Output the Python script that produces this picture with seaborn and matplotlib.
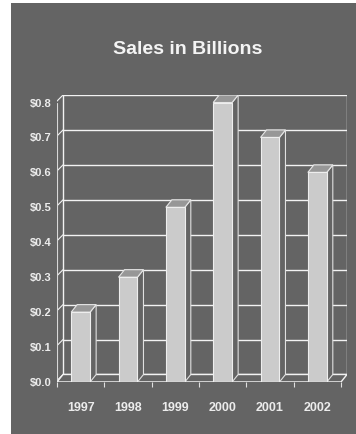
import matplotlib
matplotlib.use("Agg")
import matplotlib.pyplot as plt
from matplotlib.patches import Polygon, Rectangle
import seaborn as sns
import pandas as pd

# Data
years = ["1997", "1998", "1999", "2000", "2001", "2002"]
sales = [0.2, 0.3, 0.5, 0.8, 0.7, 0.6]
y_ticks = [0.0, 0.1, 0.2, 0.3, 0.4, 0.5, 0.6, 0.7, 0.8]
y_tick_labels = ["$0.0", "$0.1", "$0.2", "$0.3", "$0.4", "$0.5", "$0.6", "$0.7", "$0.8"]
title = "Sales in Billions"

# Styling
PANEL = "#646464"
FRONT = "#cbcbcb"
TOP = "#979797"
LINE = "#f2f2f2"
TEXT = "#ececec"
FONT = ["Liberation Sans", "DejaVu Sans"]

sns.set_theme(style="white")
plt.rcParams["font.family"] = FONT

W, H = 356, 435
fig = plt.figure(figsize=(W / 100, H / 100), dpi=100, facecolor="white")

# dark backdrop panel
fig.patches.append(Rectangle((11 / W, 0), (W - 11) / W, (H - 4) / H,
                             transform=fig.transFigure, facecolor=PANEL,
                             edgecolor="none", zorder=-5))

ax = fig.add_axes([57 / W, (H - 383) / H, 290 / W, 287 / H])
ax.set_facecolor("none")
ax.set_zorder(2)

# depth of the pseudo-3D box, in data units
D = 0.127      # horizontal shift of the back plane
E = 0.0215     # vertical shift of the back plane
x0, x1 = -0.5, 5.5
ymax = 0.8

df = pd.DataFrame({"year": years, "sales": sales})
sns.barplot(data=df, x="year", y="sales", color=FRONT, width=0.4,
            saturation=1, edgecolor="#eeeeee", linewidth=0.8, ax=ax, zorder=4)

ax.set_xlim(x0, x1 + D)
ax.set_ylim(0, ymax + E)

lw = 1.0
# back wall grid
for v in y_ticks:
    ax.plot([x0 + D, x1 + D], [v + E, v + E], color=LINE, lw=lw, zorder=1,
            solid_capstyle="butt")
    # left wall connector from the front axis to the back wall
    ax.plot([x0 - 0.03, x0 + D], [v, v + E], color=LINE, lw=0.8, zorder=1)
ax.plot([x0 + D, x0 + D], [E, ymax + E], color=LINE, lw=lw, zorder=1)
ax.plot([x1 + D, x1 + D], [E, ymax + E], color=LINE, lw=lw, zorder=1)
# front vertical axis
ax.plot([x0, x0], [0, ymax], color="#d8d8d8", lw=0.8, zorder=1)

# floor
floor = Polygon([[x0, 0], [x1, 0], [x1 + D, E], [x0 + D, E]], closed=True,
                facecolor=PANEL, edgecolor=LINE, lw=lw, zorder=1.5)
ax.add_patch(floor)

# extrude each bar: side and top faces
for p in list(ax.patches):
    if p is floor:
        continue
    bx, bw, bh = p.get_x(), p.get_width(), p.get_height()
    r = bx + bw
    side = Polygon([[r, 0], [r + D, E], [r + D, bh + E], [r, bh]], closed=True,
                   facecolor=PANEL, edgecolor="#e0e0e0", lw=0.8, zorder=3)
    top = Polygon([[bx, bh], [r, bh], [r + D, bh + E], [bx + D, bh + E]],
                  closed=True, facecolor=TOP, edgecolor="#e6e6e6", lw=0.8, zorder=3.5)
    ax.add_patch(side)
    ax.add_patch(top)
    p.set_zorder(4)

# front baseline
ax.plot([x0, x1], [0, 0], color=LINE, lw=lw, zorder=5, solid_capstyle="butt")

# axis cosmetics
for s in ax.spines.values():
    s.set_visible(False)
ax.set_xlabel("")
ax.set_ylabel("")
ax.set_yticks([])
ax.set_xticks(range(len(years)))
ax.set_xticks([i - 0.5 for i in range(len(years) + 1)], minor=True)
ax.tick_params(axis="x", which="major", length=0, pad=14, colors=TEXT)
ax.tick_params(axis="x", which="minor", length=3.5, width=0.8, color="#e0e0e0",
               direction="out", bottom=True)
for lab in ax.get_xticklabels():
    lab.set_fontsize(9)
    lab.set_fontweight("bold")
    lab.set_family(FONT)
    lab.set_color(TEXT)

for v, t in zip(y_ticks, y_tick_labels):
    ax.text(x0 - 5 / 47.33, v, t, ha="right", va="center", fontsize=8,
            fontweight="bold", color=TEXT, family=FONT)

fig.text(187.5 / W, 1 - 54 / H, title, ha="center", va="baseline",
         fontsize=14, fontweight="bold", color="#f4f4f4", family=FONT)

fig.savefig("out.png", dpi=100, facecolor="white")
